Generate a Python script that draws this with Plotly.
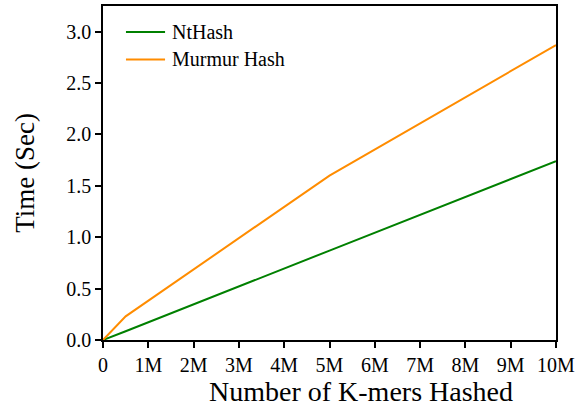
import plotly.graph_objects as go

# Hashing time vs number of k-mers
kmers = [0, 500_000, 5_000_000, 10_000_000]
nthash_time = [0.0, 0.085, 0.87, 1.74]
murmur_time = [0.0, 0.23, 1.60, 2.87]
series_names = ["NtHash", "Murmur Hash"]
series_colors = ["#008000", "#ff8c00"]

x_ticks = [i * 1_000_000 for i in range(11)]
x_tick_labels = ["0"] + [f"{i}M" for i in range(1, 11)]
y_ticks = [0, 0.5, 1.0, 1.5, 2.0, 2.5, 3.0]

font_family = "Liberation Serif, Times New Roman, serif"

fig = go.Figure()
for name, ys, color in zip(series_names, [nthash_time, murmur_time], series_colors):
    fig.add_trace(go.Scatter(x=kmers, y=ys, mode="lines", name=name,
                             line=dict(color=color, width=2), showlegend=False))

# Legend drawn as line samples + labels in the upper-left corner
legend_y = [0.922, 0.840]
for name, color, ly in zip(series_names, series_colors, legend_y):
    fig.add_shape(type="line", xref="paper", yref="paper",
                  x0=0.0507, x1=0.137, y0=ly, y1=ly,
                  line=dict(color=color, width=2))
    fig.add_annotation(xref="paper", yref="paper", x=0.1476, y=ly,
                       xanchor="left", yanchor="middle", showarrow=False,
                       text=name, font=dict(family=font_family, size=20, color="black"))

# X-axis title, placed slightly right of the axis centre
fig.add_annotation(xref="paper", yref="paper", x=0.570, y=-0.155,
                   xanchor="center", yanchor="middle", showarrow=False,
                   text="Number of K-mers Hashed",
                   font=dict(family=font_family, size=28, color="black"))

axis_common = dict(showline=True, linecolor="black", linewidth=1.5, mirror=True,
                   showgrid=False, zeroline=False, ticks="outside", ticklen=6,
                   tickwidth=1.5, tickcolor="black",
                   tickfont=dict(family=font_family, size=20, color="black"))

fig.update_xaxes(range=[0, 10_000_000], tickvals=x_ticks, ticktext=x_tick_labels,
                 **axis_common)
fig.update_yaxes(range=[0, 3.25], tickvals=y_ticks, tickformat=".1f",
                 title=dict(text="Time (Sec)",
                            font=dict(family=font_family, size=27, color="black"),
                            standoff=24),
                 **axis_common)

fig.update_layout(
    width=579, height=408,
    margin=dict(l=103, r=22, t=4, b=68),
    plot_bgcolor="white", paper_bgcolor="white",
    font=dict(family=font_family, color="black"),
    showlegend=False,
)

fig.write_html("out.html")
